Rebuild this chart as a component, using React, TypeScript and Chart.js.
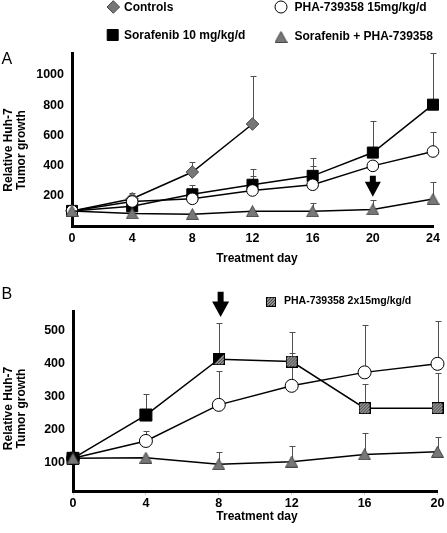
import React, { useEffect, useRef } from 'react';
import { Chart, registerables } from 'chart.js';
Chart.register(...registerables);

// ---------- Panel A ----------
const daysA = [0, 4, 8, 12, 16, 20, 24];
const controlsA = [100, 180, 357, 675, null, null, null];
const controlsErrA = [null, 220, 423, 990, null, null, null];
const sorafenibA = [100, 130, 210, 273, 332, 486, 803];
const sorafenibErrA = [null, null, 273, 378, 453, 696, 1147];
const phaA = [100, 162, 180, 235, 273, 398, 493];
const phaErrA = [null, null, null, 330, 398, null, 619];
const comboA = [100, 83, 78, 98, 97, 110, 178];
const comboErrA = [null, null, null, null, 152, 173, 290];
const yTicksA = [200, 400, 600, 800, 1000];
const arrowA = { day: 20, top: 332, headStart: 293, tip: 193 };

// ---------- Panel B ----------
const daysB = [0, 4, 8, 12, 16, 20];
const sequentialB = [112, 244, 414, 407, 265, 265];
const sequentialErrB = [null, 308, 524, 496, 338, 373];
const phaB = [112, 165, 275, 333, 374, 400];
const phaErrB = [null, 195, 378, 434, 519, 532];
const comboB = [112, 114, 94, 102, 124, 132];
const comboErrB = [null, null, 130, 150, 190, 176];
const yTicksB = [100, 200, 300, 400, 500];
const arrowB = { day: 8.1, top: 620, headStart: 590, tip: 543 };

// ---------- Labels ----------
const nameControls = 'Controls';
const namePha = 'PHA-739358 15mg/kg/d';
const nameSorafenib = 'Sorafenib 10 mg/kg/d';
const nameCombo = 'Sorafenib + PHA-739358';
const namePha2x = 'PHA-739358 2x15mg/kg/d';
const yTitle = ['Relative Huh-7', 'Tumor growth'];
const xTitle = 'Treatment day';

const FONT = "'Liberation Sans', Arial, Helvetica, sans-serif";
const GRAY = '#777777';
const GRAY_EDGE = '#474747';

function pts(days: number[], vals: (number | null)[]) {
  const out: { x: number; y: number }[] = [];
  days.forEach((d, i) => {
    const v = vals[i];
    if (v != null) out.push({ x: d, y: v });
  });
  return out;
}

function hatchSquare(size: number, half: boolean) {
  const c = document.createElement('canvas');
  c.width = size;
  c.height = size;
  const g = c.getContext('2d')!;
  g.fillStyle = '#a0a0a0';
  g.fillRect(0, 0, size, size);
  g.strokeStyle = '#2a2a2a';
  g.lineWidth = 1;
  for (let k = -size; k < 2 * size; k += 3) {
    g.beginPath();
    g.moveTo(k, size);
    g.lineTo(k + size, 0);
    g.stroke();
  }
  if (half) {
    g.fillStyle = '#000';
    g.beginPath();
    g.moveTo(0, 0);
    g.lineTo(size, 0);
    g.lineTo(0, size);
    g.closePath();
    g.fill();
  }
  g.strokeStyle = '#000';
  g.lineWidth = 1;
  g.strokeRect(0.5, 0.5, size - 1, size - 1);
  return c;
}

function triangleImg(w: number, h: number) {
  const c = document.createElement('canvas');
  c.width = w;
  c.height = h;
  const g = c.getContext('2d')!;
  g.beginPath();
  g.moveTo(w / 2, 0.5);
  g.lineTo(w - 0.5, h - 0.5);
  g.lineTo(0.5, h - 0.5);
  g.closePath();
  g.fillStyle = GRAY;
  g.fill();
  g.strokeStyle = GRAY_EDGE;
  g.lineWidth = 1;
  g.stroke();
  return c;
}

function marker(ctx: CanvasRenderingContext2D, kind: string, x: number, y: number, r: number, fill: string, edge: string) {
  ctx.save();
  ctx.beginPath();
  if (kind === 'circle') ctx.arc(x, y, r, 0, Math.PI * 2);
  else if (kind === 'diamond') {
    ctx.moveTo(x, y - r);
    ctx.lineTo(x + r, y);
    ctx.lineTo(x, y + r);
    ctx.lineTo(x - r, y);
    ctx.closePath();
  } else if (kind === 'square') {
    ctx.rect(x - r, y - r, 2 * r, 2 * r);
  }
  ctx.fillStyle = fill;
  ctx.fill();
  ctx.strokeStyle = edge;
  ctx.lineWidth = 1;
  ctx.stroke();
  ctx.restore();
}

function arrow(ctx: CanvasRenderingContext2D, cx: number, yTop: number, yHead: number, yTip: number, shaftW: number, headW: number) {
  ctx.save();
  ctx.fillStyle = '#000';
  ctx.beginPath();
  ctx.moveTo(cx - shaftW / 2, yTop);
  ctx.lineTo(cx + shaftW / 2, yTop);
  ctx.lineTo(cx + shaftW / 2, yHead);
  ctx.lineTo(cx + headW / 2, yHead);
  ctx.lineTo(cx, yTip);
  ctx.lineTo(cx - headW / 2, yHead);
  ctx.lineTo(cx - shaftW / 2, yHead);
  ctx.closePath();
  ctx.fill();
  ctx.restore();
}

function axisTitles(ctx: CanvasRenderingContext2D, yCenter: number, xCenter: number, xTitleY: number) {
  ctx.save();
  ctx.fillStyle = '#000';
  ctx.font = `bold 12px ${FONT}`;
  ctx.textAlign = 'center';
  ctx.textBaseline = 'middle';
  const xs = [9, 22];
  yTitle.forEach((t, i) => {
    ctx.save();
    ctx.translate(xs[i], yCenter);
    ctx.rotate(-Math.PI / 2);
    ctx.fillText(t, 0, 0);
    ctx.restore();
  });
  ctx.fillText(xTitle, xCenter, xTitleY);
  ctx.restore();
}

function buildChart(canvas: HTMLCanvasElement, cfg: any) {
  const errPlugin = {
    id: 'errBars',
    beforeDatasetsDraw(chart: any) {
      const { ctx } = chart;
      const xs = chart.scales.x;
      const ys = chart.scales.y;
      ctx.save();
      ctx.strokeStyle = '#505050';
      ctx.lineWidth = 1;
      cfg.errors.forEach((e: any) => {
        e.tops.forEach((t: number | null, i: number) => {
          if (t == null || e.vals[i] == null) return;
          const px = Math.round(xs.getPixelForValue(e.days[i])) + 0.5;
          const yb = ys.getPixelForValue(e.vals[i]);
          const yt = Math.round(ys.getPixelForValue(t)) + 0.5;
          ctx.beginPath();
          ctx.moveTo(px, yb);
          ctx.lineTo(px, yt);
          ctx.moveTo(px - 3, yt);
          ctx.lineTo(px + 3, yt);
          ctx.stroke();
        });
      });
      ctx.restore();
    },
  };
  const overlay = {
    id: 'overlay',
    afterDraw(chart: any) {
      cfg.overlay(chart);
    },
  };
  const tickFont = { family: FONT, size: 12.5, weight: 'bold' as const };
  return new Chart(canvas, {
    type: 'line',
    data: { datasets: cfg.datasets },
    options: {
      responsive: false,
      animation: false,
      events: [],
      layout: { padding: { left: 0, right: cfg.padRight, top: cfg.padTop, bottom: 0 } },
      plugins: { legend: { display: false }, tooltip: { enabled: false } },
      scales: {
        x: {
          type: 'linear',
          min: 0,
          max: cfg.xMax,
          afterBuildTicks: (ax: any) => {
            ax.ticks = cfg.xTicks.map((v: number) => ({ value: v }));
          },
          afterFit: (s: any) => {
            s.height = cfg.xHeight;
          },
          grid: { drawOnChartArea: false, drawTicks: cfg.xTickMarks, tickLength: 4, color: '#cccccc', lineWidth: 1 },
          border: { display: true, color: '#000', width: 3 },
          ticks: { padding: cfg.xTickMarks ? 1 : 5, color: '#000', font: tickFont, maxRotation: 0, autoSkip: false, callback: (v: any) => String(v) },
        },
        y: {
          type: 'linear',
          min: cfg.yMin,
          max: cfg.yMax,
          afterBuildTicks: (ax: any) => {
            ax.ticks = cfg.yTicks.map((v: number) => ({ value: v }));
          },
          afterFit: (s: any) => {
            s.width = cfg.yWidth;
          },
          grid: { drawOnChartArea: false, drawTicks: false },
          border: { display: true, color: '#000', width: 3 },
          ticks: { padding: 8, color: '#000', font: tickFont, autoSkip: false, callback: (v: any) => String(v) },
        },
      },
    } as any,
    plugins: [errPlugin, overlay],
  });
}

const lineBase = { borderColor: '#000', borderWidth: 1.5, clip: false as any, tension: 0, pointBorderWidth: 1 };

export default function App() {
  const refA = useRef<HTMLCanvasElement>(null);
  const refB = useRef<HTMLCanvasElement>(null);

  useEffect(() => {
    const triA = triangleImg(13, 12);
    const triB = triangleImg(13, 12);
    const chartA = buildChart(refA.current!, {
      xMax: 24,
      xTicks: daysA,
      xTickMarks: false,
      yMin: 0,
      yMax: 1145,
      yTicks: yTicksA,
      yWidth: 72,
      xHeight: 44,
      padTop: 53,
      padRight: 14,
      datasets: [
        { ...lineBase, label: nameCombo, order: 0, data: pts(daysA, comboA), pointStyle: triA, pointRadius: 7, pointBackgroundColor: GRAY, pointBorderColor: GRAY_EDGE },
        { ...lineBase, label: namePha, order: 1, data: pts(daysA, phaA), pointStyle: 'circle', pointRadius: 5.8, pointBackgroundColor: '#fff', pointBorderColor: '#000' },
        { ...lineBase, label: nameSorafenib, order: 2, data: pts(daysA, sorafenibA), pointStyle: 'rect', pointRadius: 7.8, pointBackgroundColor: '#000', pointBorderColor: '#000' },
        { ...lineBase, label: nameControls, order: 3, data: pts(daysA, controlsA), pointStyle: 'rectRot', pointRadius: 6.3, pointBackgroundColor: GRAY, pointBorderColor: GRAY_EDGE },
      ],
      errors: [
        { days: daysA, vals: controlsA, tops: controlsErrA },
        { days: daysA, vals: sorafenibA, tops: sorafenibErrA },
        { days: daysA, vals: phaA, tops: phaErrA },
        { days: daysA, vals: comboA, tops: comboErrA },
      ],
      overlay: (chart: any) => {
        const ctx: CanvasRenderingContext2D = chart.ctx;
        const xs = chart.scales.x;
        const ys = chart.scales.y;
        ctx.save();
        ctx.fillStyle = '#000';
        ctx.font = `bold 12px ${FONT}`;
        ctx.textAlign = 'left';
        ctx.textBaseline = 'middle';
        marker(ctx, 'diamond', 113.3, 7, 6.3, GRAY, GRAY_EDGE);
        ctx.fillText(nameControls, 124, 7.5);
        marker(ctx, 'circle', 281, 7, 6, '#fff', '#000');
        ctx.fillText(namePha, 294.5, 7.5);
        marker(ctx, 'square', 112.7, 35, 5.5, '#000', '#000');
        ctx.fillText(nameSorafenib, 124, 35.5);
        ctx.drawImage(triA, 274.5, 31);
        ctx.fillText(nameCombo, 294.5, 37);
        ctx.font = `16px ${FONT}`;
        ctx.fillText('A', 1.5, 59.5);
        ctx.restore();
        axisTitles(ctx, 150, 257, 258.5);
        const cx = xs.getPixelForValue(arrowA.day);
        arrow(ctx, cx, ys.getPixelForValue(arrowA.top), ys.getPixelForValue(arrowA.headStart), ys.getPixelForValue(arrowA.tip), 6, 16);
      },
    });

    const hatch = hatchSquare(12, false);
    const halfHatch = hatchSquare(12, true);
    const styleB = daysB.map((_, i) => (i < 2 ? 'rect' : i === 2 ? halfHatch : hatch));
    const chartB = buildChart(refB.current!, {
      xMax: 20,
      xTicks: daysB,
      xTickMarks: true,
      yMin: 12.5,
      yMax: 561,
      yTicks: yTicksB,
      yWidth: 73,
      xHeight: 42,
      padTop: 41,
      padRight: 9,
      datasets: [
        { ...lineBase, label: nameCombo, order: 0, data: pts(daysB, comboB), pointStyle: triB, pointRadius: 7, pointBackgroundColor: GRAY, pointBorderColor: GRAY_EDGE },
        { ...lineBase, label: namePha2x, order: 1, data: pts(daysB, sequentialB), pointStyle: styleB, pointRadius: 8.5, pointBackgroundColor: '#000', pointBorderColor: '#000' },
        { ...lineBase, label: namePha, order: 2, data: pts(daysB, phaB), pointStyle: 'circle', pointRadius: 6.5, pointBackgroundColor: '#fff', pointBorderColor: '#000' },
      ],
      errors: [
        { days: daysB, vals: sequentialB, tops: sequentialErrB },
        { days: daysB, vals: phaB, tops: phaErrB },
        { days: daysB, vals: comboB, tops: comboErrB },
      ],
      overlay: (chart: any) => {
        const ctx: CanvasRenderingContext2D = chart.ctx;
        const xs = chart.scales.x;
        const ys = chart.scales.y;
        ctx.save();
        ctx.fillStyle = '#000';
        ctx.font = `bold 10.5px ${FONT}`;
        ctx.textAlign = 'left';
        ctx.textBaseline = 'middle';
        ctx.drawImage(hatchSquare(10, false), 266, 26.7);
        ctx.fillText(namePha2x, 284, 31.5);
        ctx.font = `16px ${FONT}`;
        ctx.fillText('B', 1.5, 25);
        ctx.restore();
        axisTitles(ctx, 138.5, 257, 247);
        const cx = xs.getPixelForValue(arrowB.day);
        arrow(ctx, cx, ys.getPixelForValue(arrowB.top), ys.getPixelForValue(arrowB.headStart), ys.getPixelForValue(arrowB.tip), 6, 17);
      },
    });

    return () => {
      chartA.destroy();
      chartB.destroy();
    };
  }, []);

  return (
    <div style={{ position: 'absolute', left: 0, top: 0, width: 447, height: 533, background: '#fff' }}>
      <canvas ref={refA} width={447} height={270} style={{ position: 'absolute', left: 0, top: 0, width: 447, height: 270 }} />
      <canvas ref={refB} width={447} height={263} style={{ position: 'absolute', left: 0, top: 270, width: 447, height: 263 }} />
    </div>
  );
}
